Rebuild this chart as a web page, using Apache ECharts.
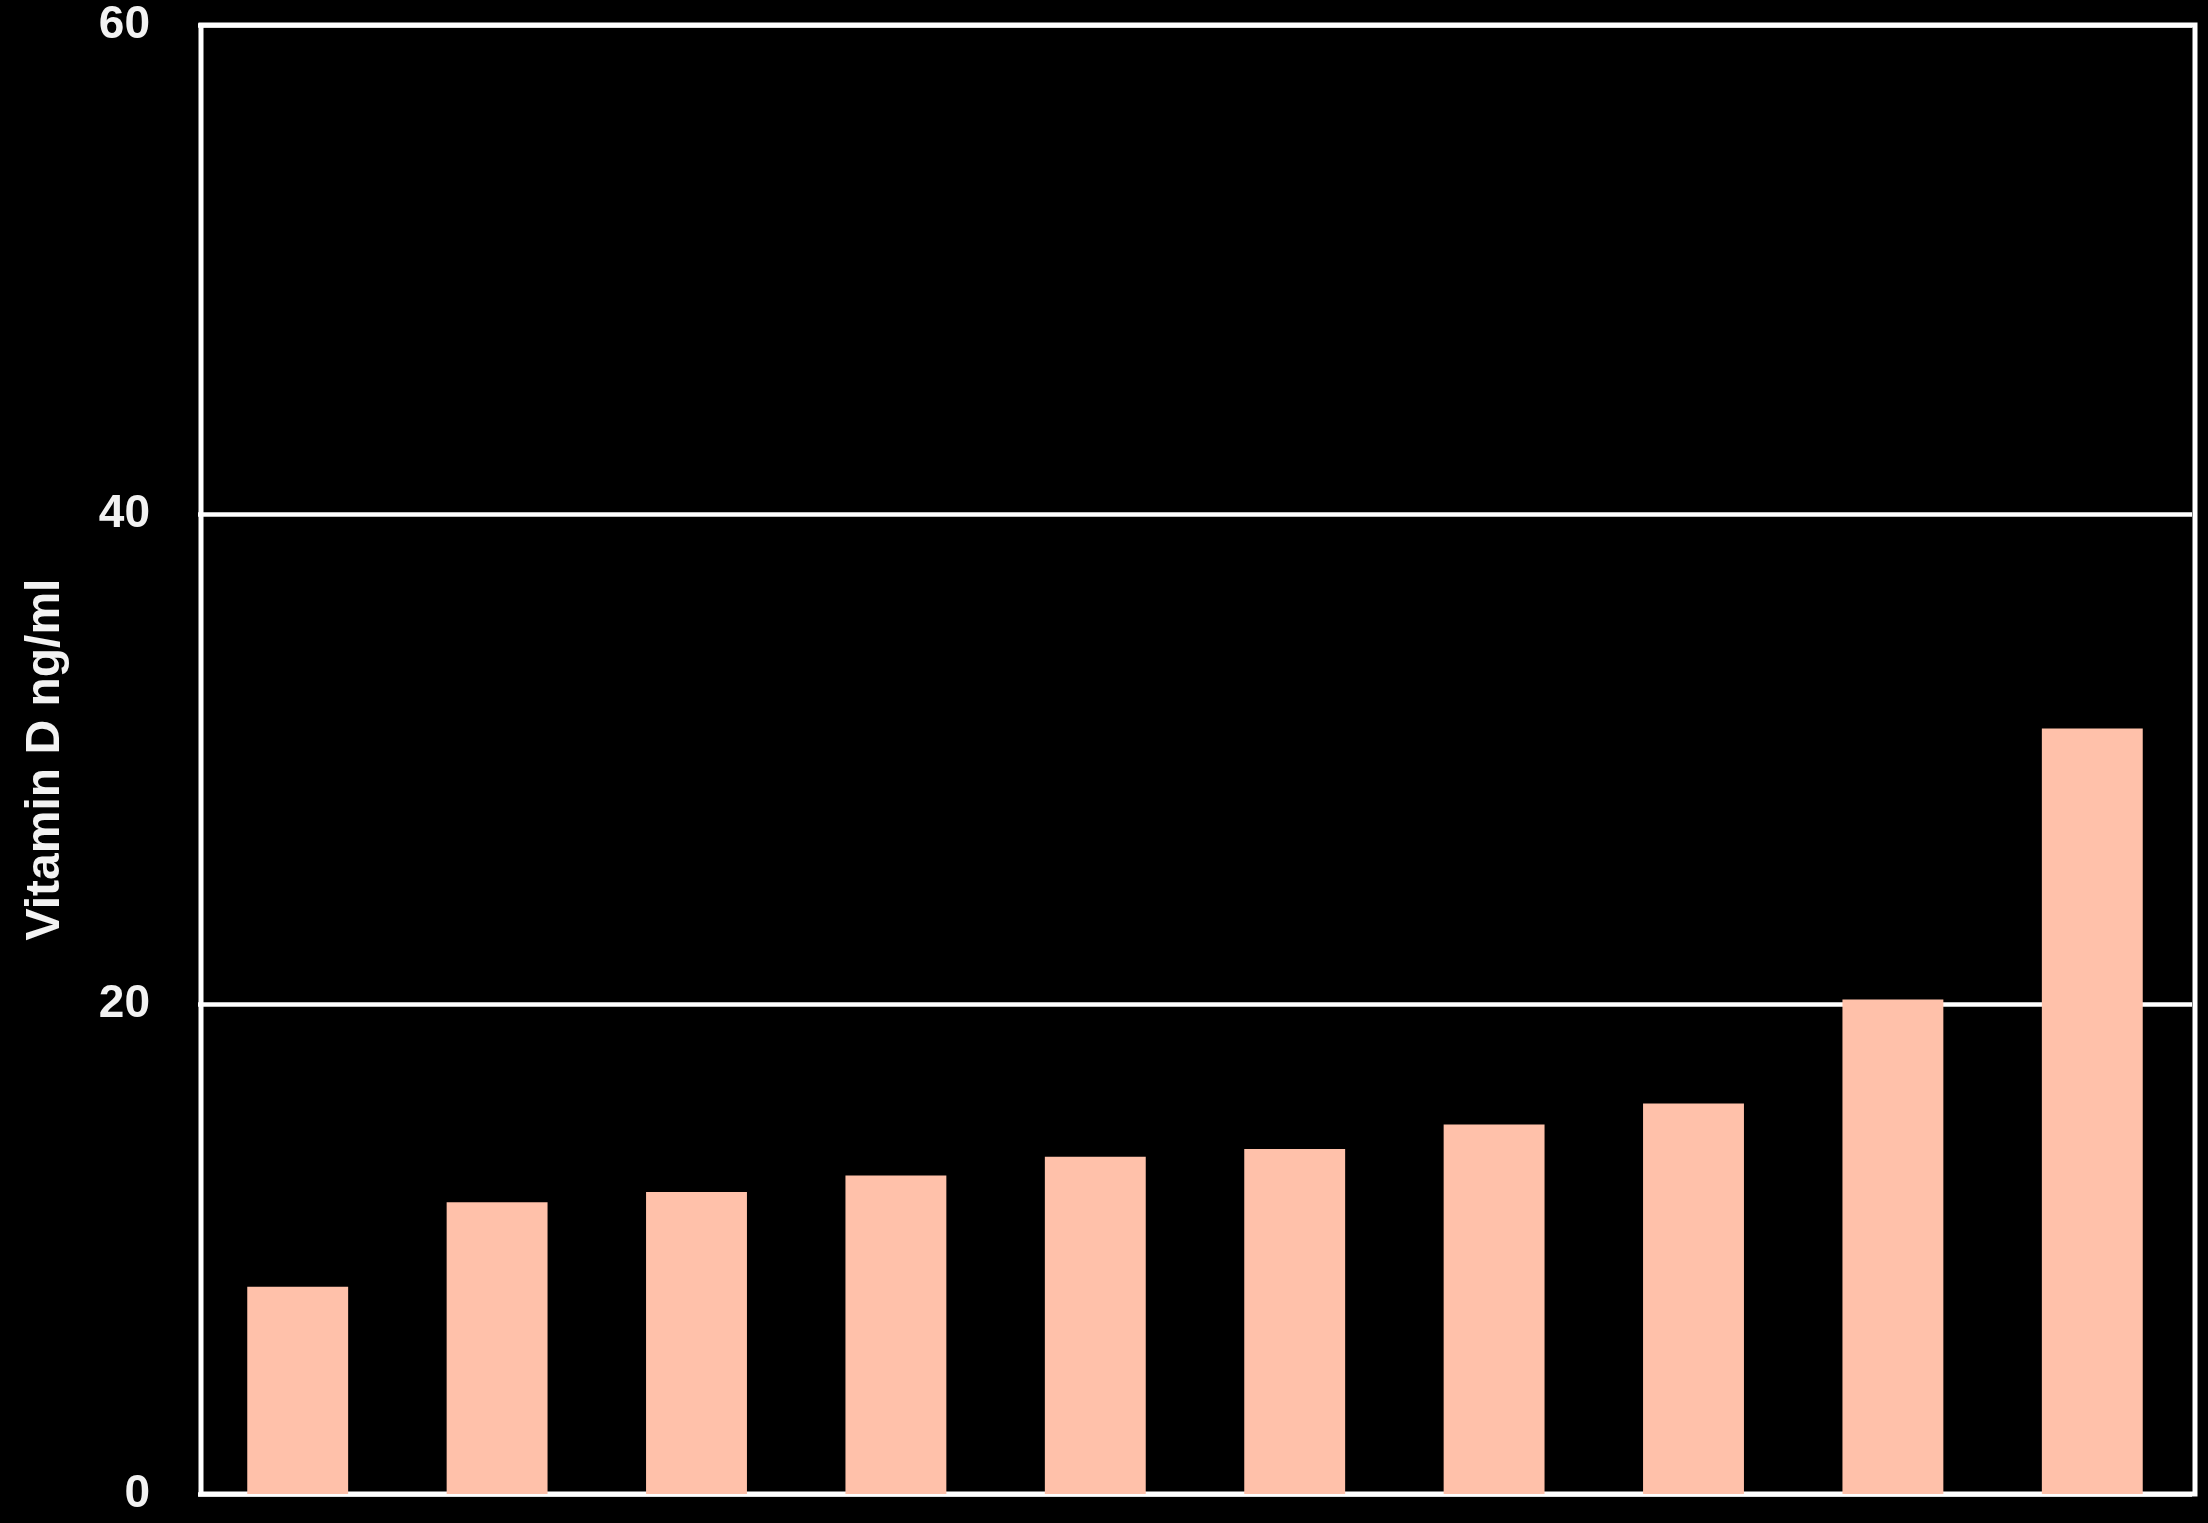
<!DOCTYPE html>
<html>
<head>
<meta charset="utf-8">
<style>
html,body{margin:0;padding:0;background:#000;}
#chart{width:2208px;height:1523px;}
</style>
<script src="https://cdn.jsdelivr.net/npm/echarts@6/dist/echarts.min.js"></script>
</head>
<body>
<div id="chart"></div>
<script>
const categories = ['1','2','3','4','5','6','7','8','9','10'];
const vitaminD = [8.46, 11.92, 12.34, 13.01, 13.77, 14.09, 15.09, 15.95, 20.2, 31.27];
const yTicks = [0, 20, 40, 60];
const yName = 'Vitamin D ng/ml';

const chart = echarts.init(document.getElementById('chart'), null, {renderer: 'canvas'});
chart.setOption({
  backgroundColor: '#000',
  animation: false,
  grid: [
    {left: 198, right: 16, top: 25, bottom: 29, show: false},
    {left: 201, right: 13, top: 25, bottom: 29, show: true, borderColor: '#fff', borderWidth: 5, backgroundColor: 'transparent'}
  ],
  xAxis: {
    type: 'category',
    gridIndex: 0,
    data: categories,
    boundaryGap: true,
    axisLine: {show: false},
    axisTick: {show: false},
    axisLabel: {show: false},
    splitLine: {show: false}
  },
  yAxis: {
    type: 'value',
    gridIndex: 0,
    min: yTicks[0],
    max: yTicks[yTicks.length - 1],
    interval: 20,
    name: yName,
    nameLocation: 'middle',
    nameGap: 128,
    nameMoveOverlap: false,
    nameTextStyle: {color: '#f2f2f2', fontSize: 48, fontWeight: 'bold', fontFamily: 'Liberation Sans, Arial, sans-serif'},
    axisLine: {show: false},
    axisTick: {show: false},
    axisLabel: {
      color: '#f2f2f2', fontSize: 46, fontWeight: 'bold', margin: 48,
      fontFamily: 'Liberation Sans, Arial, sans-serif'
    },
    splitLine: {show: true, lineStyle: {color: '#fff', width: 4.5}}
  },
  series: [{
    type: 'bar',
    data: vitaminD,
    barWidth: '50.6%',
    itemStyle: {color: '#FFC1AA'}
  }]
});
</script>
</body>
</html>
